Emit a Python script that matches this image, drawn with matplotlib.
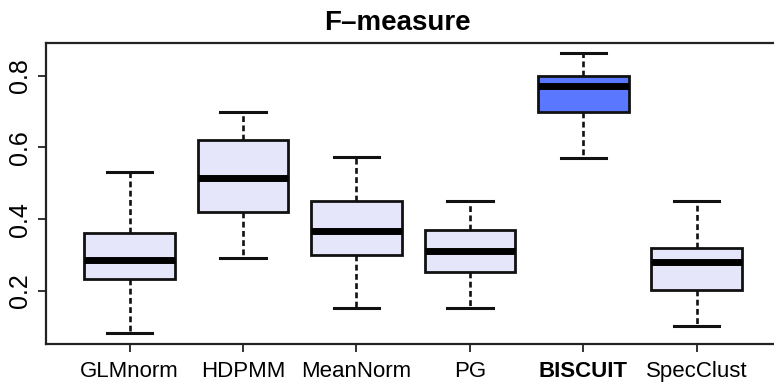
import matplotlib
matplotlib.use("Agg")
import matplotlib.pyplot as plt

# F-measure summary per method
methods = ["GLMnorm", "HDPMM", "MeanNorm", "PG", "BISCUIT", "SpecClust"]
whisker_low = [0.081, 0.291, 0.152, 0.152, 0.571, 0.102]
quart_1 = [0.232, 0.421, 0.301, 0.252, 0.700, 0.201]
medians = [0.286, 0.515, 0.366, 0.311, 0.770, 0.281]
quart_3 = [0.360, 0.620, 0.450, 0.370, 0.800, 0.320]
whisker_high = [0.530, 0.700, 0.572, 0.451, 0.862, 0.451]
highlight = "BISCUIT"

plt.rcParams["font.family"] = ["Liberation Sans", "DejaVu Sans"]

fig = plt.figure(figsize=(7.74, 3.88), dpi=100)
ax = fig.add_axes([0.059, 0.1134, 0.9497, 0.7766])

stats = []
for name, lo, q1, med, q3, hi in zip(methods, whisker_low, quart_1, medians, quart_3, whisker_high):
    stats.append({"label": name, "whislo": lo, "q1": q1, "med": med,
                  "q3": q3, "whishi": hi, "fliers": []})

bp = ax.bxp(stats, positions=range(1, len(methods) + 1), widths=0.8,
            patch_artist=True, showfliers=False,
            boxprops=dict(linewidth=2.0, edgecolor="#111111"),
            medianprops=dict(color="black", linewidth=5),
            whiskerprops=dict(color="#111111", linewidth=1.9, linestyle=(0, (2.2, 1.3))),
            capprops=dict(color="#111111", linewidth=2.2),
            capwidths=0.4)

for name, box in zip(methods, bp["boxes"]):
    box.set_facecolor("#5A78FF" if name == highlight else "#E6E6FA")

ax.set_xlim(0.26, 6.74)
ax.set_ylim(0.0516, 0.892)
ax.set_yticks([0.2, 0.4, 0.6, 0.8])
ax.set_yticklabels(["0.2", "0.4", "0.6", "0.8"], rotation=90, va="center", fontsize=18)
ax.set_xticks(range(1, len(methods) + 1))
ax.set_xticklabels(methods, fontsize=16)
for lbl in ax.get_xticklabels():
    if lbl.get_text() == highlight:
        lbl.set_fontweight("bold")

ax.tick_params(axis="both", length=6, width=1.3, color="#222222", direction="out")
ax.tick_params(axis="x", pad=6)
ax.tick_params(axis="y", pad=4)
for side in ["left", "bottom", "top"]:
    ax.spines[side].set_linewidth(1.6)
    ax.spines[side].set_color("#222222")
ax.spines["right"].set_visible(False)

fig.text(0.514, 0.923, "F\u2013measure", ha="center", va="baseline",
         fontsize=20, fontweight="bold")

fig.savefig("out.png", dpi=100)
